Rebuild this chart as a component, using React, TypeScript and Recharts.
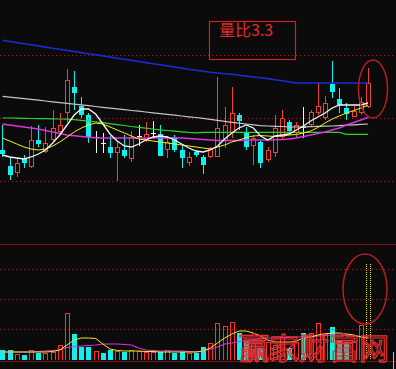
import React from 'react';
import { ComposedChart, Bar, Line, XAxis, YAxis, ReferenceLine } from 'recharts';

const W = 396;
const H = 369;
const BG = '#0b0b0b';
const RED = '#f0403a';
const VOL_RED = '#ff3030';
const CYAN = '#10f0f0';
const WHITE = '#f4f4f4';
const YELLOW = '#f0f020';
const MAGENTA = '#e030e0';
const GREEN = '#30d030';
const GRAY = '#c4c4c4';
const BLUE = '#1a2cd0';
const GRID = '#a01e1e';
const LINE = '#7c1414';

// daily prices (chart units)
const opens = [50, 34, 27, 41, 33, 60, 48, 60, 68, 87, 113, 94, 85, 63, 57, 53, 47, 50, 41, 64, 60, 67, 66, 50, 63, 50, 37, 48, 43, 43, 43, 59, 67, 85, 68, 54, 58, 40, 47, 63, 78, 67, 73, 75, 87, 82, 116, 101, 92, 83, 87, 93];
const highs = [75, 43, 42, 45, 74, 75, 73, 90, 87, 131, 129, 103, 87, 69, 67, 64, 59, 65, 69, 75, 78, 79, 75, 64, 65, 55, 48, 50, 45, 53, 123, 93, 113, 87, 73, 65, 60, 53, 85, 90, 80, 78, 93, 90, 118, 104, 139, 112, 97, 94, 103, 132];
const lows = [43, 20, 23, 32, 32, 53, 47, 58, 67, 78, 90, 82, 57, 47, 47, 42, 19, 42, 38, 54, 58, 62, 44, 42, 48, 32, 34, 43, 26, 42, 43, 52, 62, 70, 50, 35, 32, 38, 43, 60, 65, 62, 62, 73, 85, 80, 102, 87, 80, 83, 85, 92];
const closes = [46, 25, 37, 37, 60, 56, 57, 72, 75, 120, 107, 85, 63, 63, 57, 47, 53, 44, 63, 64, 66, 67, 44, 58, 50, 42, 43, 45, 35, 51, 72, 75, 87, 79, 53, 62, 37, 50, 72, 82, 69, 75, 73, 88, 94, 97, 108, 95, 86, 89, 98, 117];

// moving averages
const ma5 = [45, 43, 42, 41, 43, 46, 50, 57, 65, 75, 85, 91, 91, 86, 76, 66, 59, 54, 53, 56, 60, 63, 64, 63, 60, 56, 52, 49, 48, 50, 54, 61, 67, 72, 75, 72, 64, 60, 64, 65, 66, 70, 74, 79, 83, 87, 92, 95, 95, 95, 95, 97];
const ma10 = [62, 59, 56, 53, 51, 50, 51, 54, 58, 63, 68, 72, 75, 77, 76, 73, 70, 67, 64, 61, 60, 59, 58, 57, 56, 55, 54, 53, 52, 51, 53, 55, 58, 60, 62.5, 64, 64.5, 64, 63.5, 64, 65, 65.5, 67, 69, 72.5, 77, 81, 84, 87, 89.5, 92, 95];
const ma20 = [76, 75, 74, 73, 72, 71, 69.5, 68, 66.5, 65, 64.2, 63.5, 62.8, 62.3, 62, 62, 62, 62, 62, 62, 62, 62, 62, 62, 62, 62, 61.5, 61, 60.5, 60, 59.5, 59.5, 59.5, 59.5, 59.7, 60, 60, 60, 60.2, 60.5, 61, 62, 63.5, 65, 66.5, 68, 70, 72, 75, 77.5, 80, 82.5];
const ma60 = [82, 82, 81.8, 81.7, 81.5, 81.4, 81.3, 81.2, 81, 80.8, 80.4, 79.7, 79, 78.2, 77.4, 76.4, 75.4, 74.5, 73.5, 72.7, 71.9, 71, 70.2, 69.5, 68.8, 68.2, 67.6, 67.2, 67.6, 67.6, 67.6, 67.6, 67.6, 67.6, 67.6, 67.6, 67.6, 67.6, 67.6, 67.6, 67.6, 67.6, 67.6, 67.6, 67.6, 67.6, 67.6, 67.6, 65.6, 65.6, 65.6, 65.6];
const ma120 = [103.7, 102.9, 102.2, 101.4, 100.6, 99.8, 99, 98.2, 97.4, 96.6, 95.8, 95.1, 94.3, 93.5, 92.7, 91.9, 91.1, 90.3, 89.5, 88.8, 88, 87.2, 86.4, 85.6, 84.8, 84, 83.2, 82.5, 81.7, 80.7, 79.7, 78.7, 77.7, 76.8, 76, 75.2, 74.4, 74, 73.7, 73.5, 73.2, 73, 73.2, 73.4, 73.6, 73.8, 74, 74.4, 74.8, 75.2, 75.6, 76];
const ma250 = [159.6, 158.5, 157.4, 156.3, 155.2, 154.1, 152.9, 151.8, 150.7, 149.6, 148.5, 147.4, 146.3, 145.2, 144.1, 143, 141.8, 140.7, 139.6, 138.5, 137.4, 136.3, 135.2, 134.1, 133, 131.9, 130.8, 129.7, 128.7, 127.8, 127, 126.2, 125.7, 124.8, 123.9, 123, 122.2, 121.4, 120.3, 119.2, 118.1, 117, 117, 117, 117, 117, 117, 117, 117, 117, 117, 117];

// volume
const volumes = [10, 10, 6, 5, 10, 7, 7, 8, 15, 47, 26, 13, 13, 9, 7, 10, 9, 8, 10, 9, 8, 8, 8, 10, 7, 8, 7, 7, 13, 17, 37, 34, 38, 27, 20, 17, 12, 18, 15, 23, 12, 18, 27, 27, 37, 27, 33, 20, 18, 18, 35, 96];
const volMa5 = [8, 8, 8, 8, 8, 8, 8, 8.5, 10, 15, 20, 22, 22, 21.5, 16, 11, 9.5, 9, 9, 9, 8.5, 8.5, 8, 8, 8, 8, 8, 8, 9, 12, 17, 22, 26, 29, 29, 27, 24, 20, 18, 18, 18, 19, 22, 23, 25, 26, 27, 27, 26, 25, 23, 22];
const volMa10 = [8, 8, 8, 8, 8, 8.5, 9, 9.5, 10, 12.5, 13.5, 14, 14.5, 15, 16, 16, 16, 15.5, 15, 12, 10, 9.5, 9, 9, 9, 9, 8.5, 8, 9, 11, 13, 16, 17, 18.5, 19.5, 20.5, 21.5, 22, 22, 22.5, 22.5, 23, 23, 23.5, 24, 24.5, 25, 25, 24.5, 24, 23.5, 23];

const priceGrid = [144.5, 81.5, 18.5];
const volGrid = [90.5, 60.5, 30.5];

const rows = opens.map((open, i) => ({
  i,
  open,
  high: highs[i],
  low: lows[i],
  close: closes[i],
  prev: i > 0 ? closes[i - 1] : open,
  span: [lows[i], highs[i]],
  ma5: ma5[i],
  ma10: ma10[i],
  ma20: ma20[i],
  ma60: ma60[i],
  ma120: ma120[i],
  ma250: ma250[i],
  vol: volumes[i],
  vma5: volMa5[i],
  vma10: volMa10[i],
}));

const Candle = (props: any) => {
  const { x, y, width, height, payload } = props;
  if (x == null || y == null || !payload) return null;
  const { open, close, high, low } = payload;
  const top = Math.min(y, y + height);
  const k = Math.abs(height) / (high - low || 1);
  const py = (v: number) => Math.round(top + (high - v) * k);
  const cx = Math.round(x + width / 2) + 0.5;
  const up = close > open;
  const down = close < open;
  const color = up ? RED : down ? CYAN : WHITE;
  const bTop = py(Math.max(open, close));
  const bBot = py(Math.min(open, close));
  return (
    <g shapeRendering="crispEdges">
      <line x1={cx} x2={cx} y1={py(high)} y2={py(low)} stroke={color} />
      {up && (
        <rect x={cx - 2} y={bTop + 0.5} width={4} height={Math.max(bBot - bTop - 1, 1)} fill={BG} stroke={color} />
      )}
      {down && <rect x={cx - 2.5} y={bTop} width={5} height={Math.max(bBot - bTop, 1)} fill={color} />}
      {!up && !down && <line x1={cx - 2.5} x2={cx + 2.5} y1={bTop + 0.5} y2={bTop + 0.5} stroke={color} />}
    </g>
  );
};

const VolBar = (props: any) => {
  const { x, y, width, height, payload } = props;
  if (x == null || y == null || !payload) return null;
  const top = Math.round(Math.min(y, y + height));
  const bot = Math.round(Math.max(y, y + height));
  const cx = Math.round(x + width / 2) + 0.5;
  if (payload.i === volumes.length - 1) {
    return (
      <g shapeRendering="crispEdges">
        <line x1={cx - 2} x2={cx - 2} y1={top} y2={bot} stroke={YELLOW} strokeDasharray="1 1" />
        <line x1={cx + 2} x2={cx + 2} y1={top} y2={bot} stroke={YELLOW} strokeDasharray="1 1" />
      </g>
    );
  }
  const up = payload.close > payload.open || (payload.close === payload.open && payload.close >= payload.prev);
  if (up) {
    // hollow bar drawn as an outline path
    const l = cx - 2;
    const r = cx + 2;
    const t = top + 0.5;
    return (
      <path
        shapeRendering="crispEdges"
        d={`M${l},${bot}V${t}H${r}V${bot}`}
        fill="none"
        stroke={VOL_RED}
        strokeWidth={1}
      />
    );
  }
  return <rect shapeRendering="crispEdges" x={cx - 2.5} y={top} width={5} height={bot - top} fill={CYAN} />;
};

const xDomain = [-0.35, 54.9];

export default function App() {
  return (
    <div style={{ position: 'absolute', left: 0, top: 0, width: W, height: H, background: BG, overflow: 'hidden' }}>
      <div style={{ position: 'absolute', left: 0, top: 0 }}>
        <ComposedChart width={W} height={250} data={rows} margin={{ top: 0, right: 0, bottom: 0, left: 0 }}>
          <XAxis type="number" dataKey="i" domain={xDomain} hide />
          <YAxis type="number" domain={[-50, 200]} hide allowDataOverflow />
          {priceGrid.map((v) => (
            <ReferenceLine key={v} y={v} stroke={GRID} strokeDasharray="1 3" />
          ))}
          <Bar dataKey="span" barSize={5} shape={<Candle />} activeBar={false} isAnimationActive={false} />
          <Line type="linear" dataKey="ma250" stroke={BLUE} strokeWidth={1.6} dot={false} activeDot={false} isAnimationActive={false} />
          <Line type="linear" dataKey="ma120" stroke={GRAY} strokeWidth={1.2} dot={false} activeDot={false} isAnimationActive={false} />
          <Line type="linear" dataKey="ma60" stroke={GREEN} strokeWidth={1.2} dot={false} activeDot={false} isAnimationActive={false} />
          <Line type="linear" dataKey="ma20" stroke={MAGENTA} strokeWidth={1.4} dot={false} activeDot={false} isAnimationActive={false} />
          <Line type="linear" dataKey="ma10" stroke={YELLOW} strokeWidth={1} dot={false} activeDot={false} isAnimationActive={false} />
          <Line type="linear" dataKey="ma5" stroke={WHITE} strokeWidth={1.3} dot={false} activeDot={false} isAnimationActive={false} />
        </ComposedChart>
      </div>
      <div style={{ position: 'absolute', left: 0, top: 240 }}>
        <ComposedChart width={W} height={125} data={rows} margin={{ top: 0, right: 0, bottom: 0, left: 0 }}>
          <XAxis type="number" dataKey="i" domain={xDomain} hide />
          <YAxis type="number" domain={[-5, 120]} hide allowDataOverflow />
          <ReferenceLine y={115.5} stroke={LINE} />
          <ReferenceLine y={-1.5} stroke={LINE} />
          {volGrid.map((v) => (
            <ReferenceLine key={v} y={v} stroke={GRID} strokeDasharray="1 3" />
          ))}
          <Bar dataKey="vol" barSize={5} shape={<VolBar />} activeBar={false} isAnimationActive={false} />
          <Line type="linear" dataKey="vma10" stroke={MAGENTA} strokeWidth={1.2} dot={false} activeDot={false} isAnimationActive={false} />
          <Line type="linear" dataKey="vma5" stroke={YELLOW} strokeWidth={1} dot={false} activeDot={false} isAnimationActive={false} />
        </ComposedChart>
      </div>
      <svg width={W} height={H} style={{ position: 'absolute', left: 0, top: 0, pointerEvents: 'none' }}>
        <rect x={209.5} y={21.5} width={86} height={38} fill="none" stroke="#d02424" strokeWidth={1.2} />
        <text x={219} y={36} fill="#e22a2a" fontSize={16} fontFamily="'Noto Sans CJK SC', sans-serif">
          量比3.3
        </text>
        <ellipse cx={373} cy={89} rx={14.5} ry={29} fill="none" stroke="#b81e1e" strokeWidth={1.5} />
        <ellipse cx={365} cy={289} rx={22} ry={35} fill="none" stroke="#b81e1e" strokeWidth={1.5} />
        <text
          x={239}
          y={359}
          fill="none"
          stroke="#e03232"
          strokeWidth={1.2}
          fontSize={30}
          fontFamily="'Noto Sans CJK SC', sans-serif"
        >
          赢家财富网
        </text>
        <line x1={393.5} x2={393.5} y1={352} y2={369} stroke="#bcbcbc" />
      </svg>
    </div>
  );
}
